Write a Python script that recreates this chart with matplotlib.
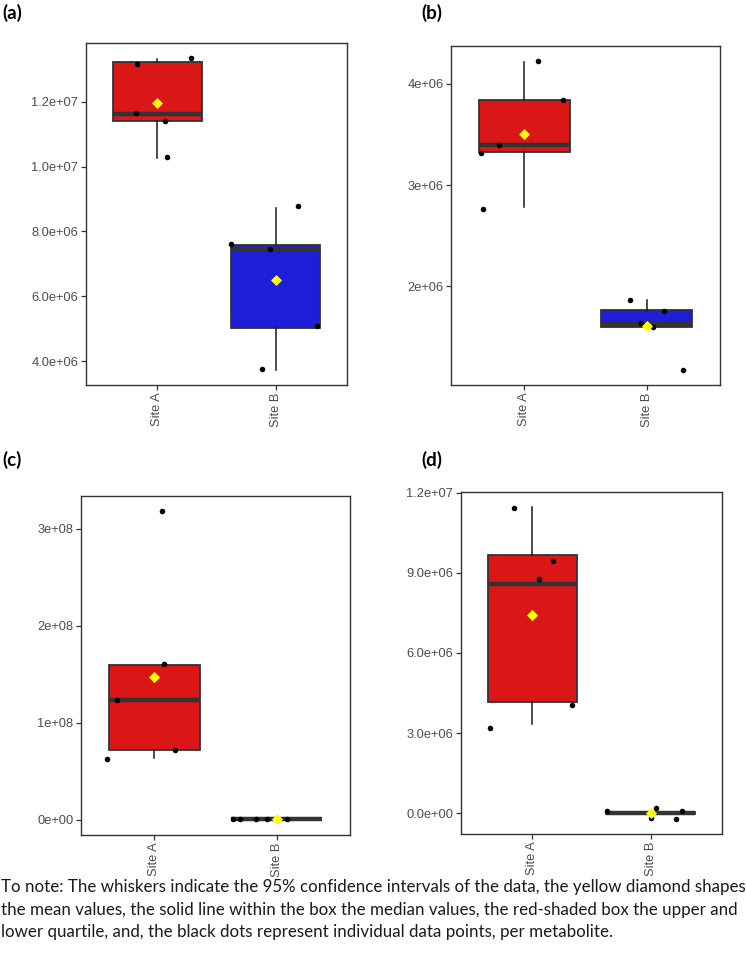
import matplotlib
matplotlib.use("Agg")
import matplotlib.pyplot as plt
from matplotlib.ticker import FixedLocator, FormatStrFormatter

sites = ["Site A", "Site B"]

# --- panel (a)
a_site_a = [13.17e6, 13.35e6, 11.65e6, 11.39e6, 10.29e6]
a_site_a_jit = [-0.169, 0.284, -0.177, 0.065, 0.082]
a_site_b = [7.60e6, 8.77e6, 7.455e6, 5.09e6, 3.76e6]
a_site_b_jit = [-0.374, 0.186, -0.053, 0.346, -0.113]
a_q1 = [11.40e6, 5.03e6]
a_med = [11.63e6, 7.455e6]
a_q3 = [13.21e6, 7.58e6]
a_lo = [10.25e6, 3.72e6]
a_hi = [13.33e6, 8.73e6]
a_mean = [11.96e6, 6.50e6]
a_ticks = [4e6, 6e6, 8e6, 10e6, 12e6]

# --- panel (b)
b_site_a = [4.231e6, 3.839e6, 3.397e6, 3.318e6, 2.765e6]
b_site_a_jit = [0.109, 0.319, -0.207, -0.351, -0.335]
b_site_b = [1.858e6, 1.750e6, 1.635e6, 1.598e6, 1.173e6]
b_site_b_jit = [-0.134, 0.144, -0.049, 0.049, 0.300]
b_q1 = [3.325e6, 1.595e6]
b_med = [3.400e6, 1.625e6]
b_q3 = [3.839e6, 1.763e6]
b_lo = [2.778e6, 1.595e6]
b_hi = [4.217e6, 1.858e6]
b_mean = [3.509e6, 1.605e6]
b_ticks = [2e6, 3e6, 4e6]

# --- panel (c)
c_site_a = [3.182e8, 1.605e8, 1.230e8, 0.722e8, 0.625e8]
c_site_a_jit = [0.065, 0.079, -0.308, 0.166, -0.387]
c_site_b = [0.4e6, 1.2e6, 0.3e6, 0.4e6, 0.2e6]
c_site_b_jit = [-0.36, -0.30, -0.169, -0.079, 0.082]
c_q1 = [0.722e8, 0.2e6]
c_med = [1.230e8, 0.5e6]
c_q3 = [1.601e8, 1.0e6]
c_lo = [0.632e8, 0.2e6]
c_hi = [1.601e8, 1.0e6]
c_mean = [1.471e8, 0.5e6]
c_ticks = [0, 1e8, 2e8, 3e8]

# --- panel (d)
d_site_a = [11.425e6, 9.425e6, 8.775e6, 4.05e6, 3.2e6]
d_site_a_jit = [-0.152, 0.177, 0.059, 0.338, -0.358]
d_site_b = [0.09e6, 0.21e6, 0.09e6, -0.2e6, -0.19e6]
d_site_b_jit = [-0.366, 0.042, 0.259, 0.214, 0.0]
d_q1 = [4.16e6, -0.02e6]
d_med = [8.575e6, 0.0]
d_q3 = [9.66e6, 0.04e6]
d_lo = [3.34e6, -0.02e6]
d_hi = [11.45e6, 0.04e6]
d_mean = [7.44e6, 0.0]
d_ticks = [0, 3e6, 6e6, 9e6, 12e6]

caption = [
    "To note: The whiskers indicate the 95% confidence intervals of the data, the yellow diamond shapes",
    "the mean values, the solid line within the box the median values, the red-shaded box the upper and",
    "lower quartile, and, the black dots represent individual data points, per metabolite.",
]

RED = "#DA1616"
BLUE = "#1E1ED8"
EDGE = "#333333"
TXT = "#4D4D4D"

fig = plt.figure(figsize=(7.46, 9.66), dpi=100)


def panel(rect, label, label_xy, va, va_jit, vb, vb_jit, q1, med, q3, lo, hi, mean,
          fills, ticks, fmt, ylim):
    ax = fig.add_axes(rect)
    stats = []
    for i in range(2):
        stats.append(dict(q1=q1[i], med=med[i], q3=q3[i], whislo=lo[i], whishi=hi[i],
                          fliers=[], label=sites[i]))
    bp = ax.bxp(stats, positions=[1, 2], widths=0.75, patch_artist=True,
                showcaps=False, showfliers=False,
                boxprops=dict(edgecolor=EDGE, linewidth=1.3),
                medianprops=dict(color=EDGE, linewidth=3.2, solid_capstyle="butt"),
                whiskerprops=dict(color="#1a1a1a", linewidth=1.1))
    for patch, c in zip(bp["boxes"], fills):
        patch.set_facecolor(c)
    xa = [1 + j for j in va_jit]
    xb = [2 + j for j in vb_jit]
    ax.scatter(xa, va, s=16, color="black", zorder=4, linewidths=0)
    ax.scatter(xb, vb, s=16, color="black", zorder=4, linewidths=0)
    ax.scatter([1, 2], mean, marker="D", s=32, color="#FFFF00", zorder=5, linewidths=0)

    ax.set_xlim(0.4, 2.6)
    ax.set_ylim(*ylim)
    ax.yaxis.set_major_locator(FixedLocator(ticks))
    ax.yaxis.set_major_formatter(FormatStrFormatter(fmt))
    ax.set_xticks([1, 2])
    ax.set_xticklabels(sites, rotation=90, va="top")
    ax.tick_params(length=3.5, width=0.9, color=EDGE, labelcolor=TXT, labelsize=9.3, pad=2)
    for lab in ax.get_xticklabels() + ax.get_yticklabels():
        lab.set_family("Liberation Sans")
    for s in ax.spines.values():
        s.set_color(EDGE)
        s.set_linewidth(1.0)
    fig.text(label_xy[0], label_xy[1], label, fontsize=13.5, fontweight="bold",
             family="Lato", ha="left", va="center")
    return ax


def r(x0, x1, y0, y1):
    return [x0 / 746, 1 - y1 / 966, (x1 - x0) / 746, (y1 - y0) / 966]


panel(r(86, 347, 43, 385), "(a)", (2 / 746, 1 - 13 / 966),
      a_site_a, a_site_a_jit, a_site_b, a_site_b_jit,
      a_q1, a_med, a_q3, a_lo, a_hi, a_mean, [RED, BLUE], a_ticks, "%.1e",
      (3.26e6, 13.81e6))
panel(r(451, 720, 46, 385), "(b)", (421 / 746, 1 - 13 / 966),
      b_site_a, b_site_a_jit, b_site_b, b_site_b_jit,
      b_q1, b_med, b_q3, b_lo, b_hi, b_mean, [RED, BLUE], b_ticks, "%.0e",
      (1.021e6, 4.376e6))
panel(r(81, 350, 496, 835), "(c)", (2 / 746, 1 - 460 / 966),
      c_site_a, c_site_a_jit, c_site_b, c_site_b_jit,
      c_q1, c_med, c_q3, c_lo, c_hi, c_mean, [RED, RED], c_ticks, "%.0e",
      (-0.158e8, 3.340e8))
panel(r(461, 722, 492, 834), "(d)", (421 / 746, 1 - 460 / 966),
      d_site_a, d_site_a_jit, d_site_b, d_site_b_jit,
      d_q1, d_med, d_q3, d_lo, d_hi, d_mean, [RED, RED], d_ticks, "%.1e",
      (-0.775e6, 12.025e6))

for i, line in enumerate(caption):
    fig.text(1 / 746, 1 - (887 + 22.5 * i) / 966, line, fontsize=12.15, family="Lato",
             ha="left", va="center", color="#1a1a1a")

fig.savefig("out.png", dpi=100)
